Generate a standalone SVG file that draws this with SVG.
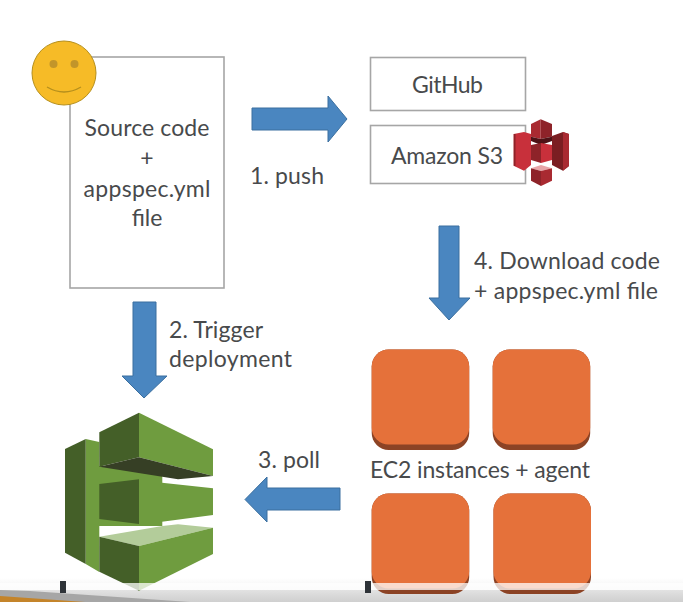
<svg xmlns="http://www.w3.org/2000/svg" width="683" height="602" viewBox="0 0 683 602">
<style>
text{font-family:"Lato","Open Sans",sans-serif;fill:#484a4c;font-size:23px}
.m{text-anchor:middle}
.box{fill:#fff;stroke:#a6a6a6;stroke-width:1.6}
.arrow{fill:#4a86c0;stroke:#3b6f9f;stroke-width:1}
.ec2{fill:#e5713a}
.ec2b{fill:#8c4325}
.gd{fill:#6f9c3f}.gm{fill:#445f28}.gk{fill:#363f25}.gl{fill:#b3cc9a}
.rb{fill:#c8303b}.rd{fill:#8e2329}.rm{fill:#a92a31}.rk{fill:#7b1e22}
</style>
<defs>
<linearGradient id="fade" x1="0" y1="0" x2="0" y2="1"><stop offset="0" stop-color="#f0f0f0" stop-opacity="0"/><stop offset="1" stop-color="#f0f0f0"/></linearGradient>
<linearGradient id="band" x1="0" y1="0" x2="0" y2="1"><stop offset="0" stop-color="#e2e2e2"/><stop offset="1" stop-color="#cfcfcf"/></linearGradient>
<g id="inst"><rect x="0" y="0" width="97.500" height="100.500" rx="17" class="ec2b"/><rect x="0" y="0" width="97.500" height="95" rx="17" class="ec2"/></g>
</defs>
<rect width="683" height="602" fill="#fff"/>
<g id="footer-back">
<rect x="0" y="578" width="683" height="12" fill="url(#fade)"/>
<rect x="0" y="590" width="683" height="12" fill="url(#band)"/>
<path d="M0 590L30 591 190 602H0Z" fill="#a6a6a6"/>
<path d="M0 596L85 602H0Z" fill="#c4842a"/>
</g>

<g id="source"><rect class="box" x="70" y="57" width="154" height="231"/>
<text class="m" x="147" y="136" textLength="125">Source code</text><text class="m" x="147" y="166">+</text><text class="m" x="147" y="197" textLength="127">appspec.yml</text><text class="m" x="147" y="226">file</text></g>
<g id="user"><circle cx="64" cy="73" r="32" fill="#f6bb27" stroke="#b58f1d" stroke-width="1"/><circle cx="53.500" cy="64" r="4" fill="#c2952a"/><circle cx="74.500" cy="64" r="4" fill="#c2952a"/><path d="M47 87Q64 97 81 87" fill="none" stroke="#b58f1d" stroke-width="1.300"/></g>
<g id="github"><rect class="box" x="370.500" y="57.500" width="155" height="53"/><text class="m" x="447.500" y="93" textLength="71">GitHub</text></g>
<g id="s3"><rect class="box" x="370.500" y="125.500" width="155" height="58"/><text x="391" y="164" textLength="112">Amazon S3</text>
<path d="M513.700 134L524 132 531 134V165L524 170.700 513.700 165.700Z" class="rb"/><path d="M513.700 134L515.500 134V166.300L513.700 165.700Z" class="rd"/>
<path d="M552 136L563 132 569 134V166L563 170.700 552 165Z" class="rk"/><path d="M563 132L569 134V166L563 170.700Z" class="rm"/>
<path d="M531 124L540.700 119.300V139L531 136.700Z" class="rm"/><path d="M540.700 119.300L552 124V136.700L540.700 139Z" class="rd"/>
<path d="M531 136.700L540.700 139 552 136.700V141L541 145 531 141Z" fill="#4e1216"/>
<path d="M531 145L541 143V163L531 160Z" class="rd"/><path d="M541 143L552 145V160L541 163Z" class="rb"/>
<path d="M531 168.300L541 165 552 168.300 541 171Z" fill="#e8a5a8"/><path d="M531 168.300L541 171V186L531 180.700Z" class="rd"/><path d="M541 171L552 168.300V180.700L541 186Z" class="rm"/></g>

<g id="codedeploy">
<path d="M85.700 439L99.300 442V466H162.300V526H99.300V572L85.700 564Z" class="gd"/>
<path d="M65 449L85.700 439V564L65 552.700Z" class="gm"/>
<path d="M99.300 432.300L139 412.700V457.300L99.300 466.700Z" class="gm"/>
<path d="M139 412.700L213 449.300V476L139 457.300Z" class="gd"/>
<path d="M99.300 466.700L139 457.300 213 476 178 479.300Z" class="gk"/>
<path d="M162 482.700L213 488.300V515L162 521.700Z" class="gd"/>
<path d="M99.300 484L139 479.300V524L99.300 519Z" class="gm"/>
<path d="M99.300 536.700L162.300 526 178 524.300 213 527.700 139 546Z" class="gl"/>
<path d="M99.300 536.700L139 546V590.700L99.300 571.700Z" class="gm"/>
<path d="M139 546L213 527.700V554L139 590.700Z" class="gd"/>
</g>

<g id="ec2"><use href="#inst" x="371.700" y="349.500"/><use href="#inst" x="492.700" y="349.500"/><use href="#inst" x="371.700" y="493.500"/><use href="#inst" x="493.500" y="493.500"/>
<text x="370" y="478" textLength="220">EC2 instances + agent</text></g>

<g id="connectors">
<path class="arrow" d="M252 108H328V96L347 119 328 142V130H252Z"/>
<path class="arrow" d="M439 226H459V298H470L449 320 429 298H439Z"/>
<path class="arrow" d="M133 302H156V376H167L144 398 122 376H133Z"/>
<path class="arrow" d="M340 488H267V477L245 499.500 267 522V510H340Z"/>
</g>
<g id="labels">
<text x="250" y="184" textLength="74">1. push</text>
<text x="169" y="338" textLength="94">2. Trigger</text><text x="169" y="367" textLength="123">deployment</text>
<text x="258" y="468" textLength="62">3. poll</text>
<text x="474" y="269" textLength="186">4. Download code</text><text x="474" y="299" textLength="184">+ appspec.yml file</text>
</g>
<g id="footer-front">
<rect x="0" y="583" width="683" height="7" fill="#fff" opacity=".75"/>
<rect x="60" y="581" width="6" height="12" fill="#2e3338"/><rect x="365" y="581" width="6" height="12" fill="#2e3338"/>
</g>
</svg>
